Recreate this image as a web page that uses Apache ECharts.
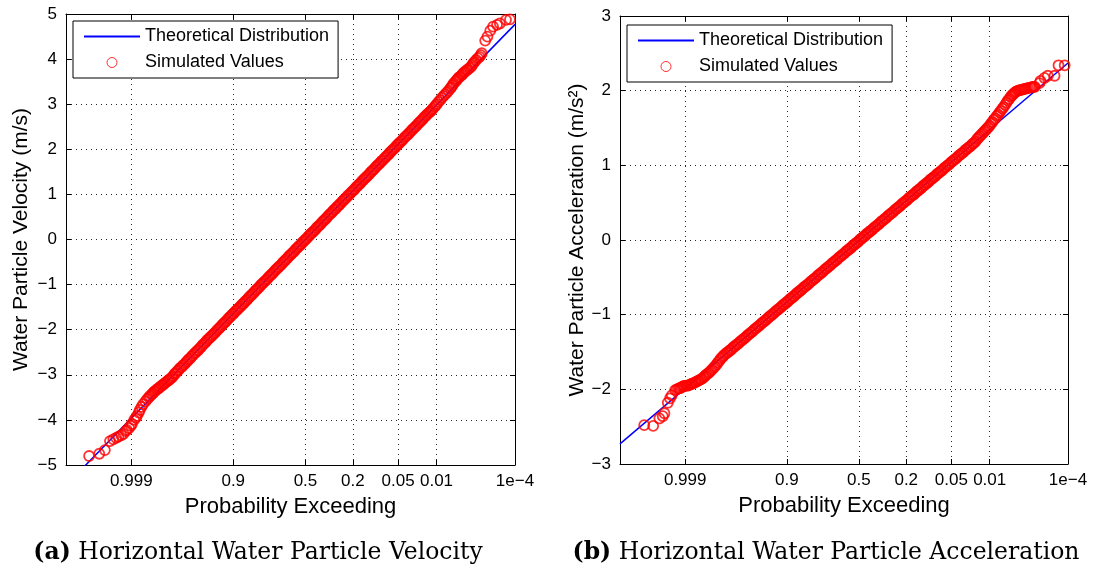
<!DOCTYPE html>
<html><head><meta charset="utf-8">
<script src="https://cdn.jsdelivr.net/npm/echarts@6/dist/echarts.min.js"></script>
<style>html,body{margin:0;padding:0;background:#fff}#c{width:1095px;height:577px}</style>
</head><body><div id="c"></div><script>
// ---- data ----
const probTickLabels = ['0.999', '0.9', '0.5', '0.2', '0.05', '0.01', '1e\u22124'];
const probTickZ = [-3.0902, -1.2816, 0, 0.8416, 1.6449, 2.3263, 3.7190];
const zMin = -4.25, zMax = 3.719;

const velocityTheoretical = [[-4.25, -5.45], [3.719, 4.77]];
const velocitySimulated = [
 [-3.84,-4.80],[-3.66,-4.75],[-3.56,-4.67],[-3.47,-4.47],[-3.41,-4.43],[-3.36,-4.40],[-3.32,-4.37],[-3.27,-4.34],[-3.23,-4.31],[-3.19,-4.25],[-3.17,-4.22],[-3.13,-4.18],[-3.10,-4.13],[-3.08,-4.09],[-3.04,-4.00],[-3.01,-3.95],[-2.99,-3.91],[-2.96,-3.84],[-2.94,-3.78],[-2.91,-3.71],[-2.88,-3.65],[-2.84,-3.59],[-2.81,-3.54],[-2.78,-3.50],[-2.76,-3.47],[-2.73,-3.44],[-2.71,-3.41],[-2.69,-3.38],[-2.67,-3.36],[-2.64,-3.33],[-2.62,-3.31],[-2.60,-3.29],[-2.58,-3.27],[-2.55,-3.24],[-2.53,-3.22],[-2.51,-3.20],[-2.49,-3.18],[-2.46,-3.15],[-2.44,-3.13],[-2.42,-3.11],[-2.40,-3.09],[-2.37,-3.06],
 [-2.35,-3.03],[-2.325,-2.98],[-2.30,-2.96],[-2.275,-2.92],[-2.25,-2.89],[-2.225,-2.85],[-2.20,-2.83],[-2.175,-2.79],[-2.15,-2.77],[-2.125,-2.73],[-2.10,-2.70],[-2.075,-2.66],[-2.05,-2.64],[-2.025,-2.60],[-2.00,-2.57],[-1.975,-2.53],[-1.95,-2.51],[-1.925,-2.47],[-1.90,-2.45],[-1.875,-2.41],[-1.85,-2.38],[-1.825,-2.34],[-1.80,-2.31],[-1.775,-2.28],[-1.75,-2.24],[-1.725,-2.21],[-1.70,-2.18],[-1.675,-2.15],[-1.65,-2.12],[-1.625,-2.09],[-1.60,-2.06],[-1.575,-2.02],[-1.55,-1.99],[-1.525,-1.96],[-1.50,-1.93],[-1.475,-1.89],[-1.45,-1.86],[-1.425,-1.83],[-1.40,-1.80],[-1.375,-1.76],[-1.35,-1.73],[-1.325,-1.70],[-1.30,-1.66],[-1.275,-1.64],[-1.25,-1.60],[-1.225,-1.57],[-1.20,-1.54],[-1.175,-1.51],[-1.15,-1.48],[-1.125,-1.44],[-1.10,-1.42],[-1.075,-1.38],[-1.05,-1.35],[-1.025,-1.32],[-1.00,-1.28],[-0.975,-1.25],[-0.95,-1.22],[-0.925,-1.19],[-0.90,-1.15],[-0.875,-1.12],[-0.85,-1.09],[-0.825,-1.06],[-0.80,-1.02],[-0.775,-0.99],[-0.75,-0.96],[-0.725,-0.93],[-0.70,-0.90],[-0.675,-0.87],[-0.65,-0.83],[-0.625,-0.80],[-0.60,-0.77],[-0.575,-0.74],[-0.55,-0.70],[-0.525,-0.67],[-0.50,-0.64],[-0.475,-0.61],[-0.45,-0.58],[-0.425,-0.55],[-0.40,-0.51],[-0.375,-0.48],[-0.35,-0.45],[-0.325,-0.42],[-0.30,-0.38],[-0.275,-0.35],[-0.25,-0.32],[-0.225,-0.29],[-0.20,-0.26],[-0.175,-0.22],[-0.15,-0.19],[-0.125,-0.16],[-0.10,-0.13],[-0.075,-0.10],[-0.05,-0.06],[-0.025,-0.03],
 [0.00,0.00],[0.025,0.03],[0.05,0.07],[0.075,0.10],[0.10,0.13],[0.125,0.16],[0.15,0.19],[0.175,0.22],[0.20,0.26],[0.225,0.29],[0.25,0.32],[0.275,0.35],[0.30,0.39],[0.325,0.42],[0.35,0.45],[0.375,0.48],[0.40,0.52],[0.425,0.55],[0.45,0.58],[0.475,0.61],[0.50,0.65],[0.525,0.67],[0.55,0.71],[0.575,0.74],[0.60,0.77],[0.625,0.80],[0.65,0.84],[0.675,0.87],[0.70,0.90],[0.725,0.93],[0.75,0.97],[0.775,0.99],[0.80,1.03],[0.825,1.06],[0.85,1.09],[0.875,1.12],[0.90,1.16],[0.925,1.19],[0.95,1.22],[0.975,1.25],[1.00,1.29],[1.025,1.32],[1.05,1.35],[1.075,1.38],[1.10,1.41],[1.125,1.44],[1.15,1.48],[1.175,1.51],[1.20,1.54],[1.225,1.57],[1.25,1.61],[1.275,1.64],[1.30,1.67],[1.325,1.70],[1.35,1.74],[1.375,1.76],[1.40,1.80],[1.425,1.83],[1.45,1.86],[1.475,1.89],[1.50,1.93],[1.525,1.96],[1.55,1.99],[1.575,2.02],[1.60,2.05],[1.625,2.09],[1.65,2.12],[1.675,2.15],[1.70,2.18],[1.725,2.21],[1.75,2.25],[1.775,2.28],[1.80,2.31],[1.825,2.34],[1.85,2.37],[1.875,2.41],[1.90,2.44],[1.925,2.47],[1.95,2.50],[1.975,2.53],[2.00,2.57],[2.025,2.60],[2.05,2.63],[2.075,2.66],[2.10,2.70],[2.125,2.73],[2.15,2.76],[2.175,2.79],[2.20,2.82],
 [2.22,2.84],[2.24,2.87],[2.26,2.90],[2.29,2.94],[2.31,2.97],[2.33,3.00],[2.36,3.05],[2.39,3.09],[2.42,3.14],[2.45,3.18],[2.48,3.22],[2.51,3.26],[2.54,3.30],[2.57,3.35],[2.59,3.38],[2.61,3.42],[2.63,3.46],[2.66,3.50],[2.68,3.53],[2.70,3.56],[2.72,3.59],[2.74,3.61],[2.77,3.64],[2.79,3.67],[2.81,3.70],[2.83,3.72],[2.86,3.75],[2.88,3.77],[2.91,3.80],[2.94,3.83],[2.96,3.87],[2.98,3.91],[3.00,3.94],[3.03,3.98],[3.06,4.02],[3.09,4.05],[3.11,4.09],[3.13,4.13],[3.19,4.41],[3.23,4.50],[3.28,4.63],[3.33,4.72],[3.40,4.76],[3.45,4.79],[3.56,4.87],[3.63,4.88]
];

const accelTheoretical = [[-4.25, -2.73], [3.719, 2.37]];
const accelSimulated = [
 [-3.82,-2.48],[-3.66,-2.49],[-3.55,-2.39],[-3.49,-2.36],[-3.46,-2.32],[-3.40,-2.18],[-3.36,-2.12],[-3.33,-2.08],[-3.27,-2.01],[-3.24,-2.00],[-3.21,-1.99],[-3.19,-1.985],[-3.17,-1.98],[-3.15,-1.97],[-3.13,-1.96],[-3.11,-1.955],[-3.08,-1.95],[-3.06,-1.95],[-3.04,-1.95],[-3.01,-1.94],[-2.99,-1.93],[-2.97,-1.925],[-2.95,-1.92],[-2.92,-1.91],[-2.90,-1.90],[-2.87,-1.89],[-2.85,-1.88],[-2.82,-1.87],[-2.80,-1.86],[-2.77,-1.845],[-2.75,-1.83],[-2.73,-1.815],[-2.71,-1.80],[-2.68,-1.785],[-2.66,-1.77],[-2.63,-1.75],[-2.61,-1.73],[-2.58,-1.71],[-2.56,-1.69],[-2.53,-1.665],[-2.51,-1.64],[-2.48,-1.615],[-2.46,-1.59],[-2.43,-1.57],[-2.41,-1.55],[-2.38,-1.53],
 [-2.35,-1.51],[-2.325,-1.50],[-2.30,-1.48],[-2.275,-1.47],[-2.25,-1.45],[-2.225,-1.43],[-2.20,-1.42],[-2.175,-1.40],[-2.15,-1.39],[-2.125,-1.37],[-2.10,-1.35],[-2.075,-1.34],[-2.05,-1.32],[-2.025,-1.31],[-2.00,-1.29],[-1.975,-1.27],[-1.95,-1.26],[-1.925,-1.24],[-1.90,-1.23],[-1.875,-1.21],[-1.85,-1.19],[-1.825,-1.18],[-1.80,-1.16],[-1.775,-1.15],[-1.75,-1.13],[-1.725,-1.11],[-1.70,-1.10],[-1.675,-1.08],[-1.65,-1.07],[-1.625,-1.05],[-1.60,-1.03],[-1.575,-1.02],[-1.55,-1.00],[-1.525,-0.99],[-1.50,-0.97],[-1.475,-0.95],[-1.45,-0.94],[-1.425,-0.92],[-1.40,-0.91],[-1.375,-0.89],[-1.35,-0.87],[-1.325,-0.86],[-1.30,-0.84],[-1.275,-0.83],[-1.25,-0.81],[-1.225,-0.79],[-1.20,-0.78],[-1.175,-0.76],[-1.15,-0.75],[-1.125,-0.73],[-1.10,-0.71],[-1.075,-0.70],[-1.05,-0.68],[-1.025,-0.67],[-1.00,-0.65],[-0.975,-0.63],[-0.95,-0.62],[-0.925,-0.60],[-0.90,-0.59],[-0.875,-0.57],[-0.85,-0.55],[-0.825,-0.54],[-0.80,-0.52],[-0.775,-0.51],[-0.75,-0.49],[-0.725,-0.47],[-0.70,-0.46],[-0.675,-0.44],[-0.65,-0.43],[-0.625,-0.41],[-0.60,-0.39],[-0.575,-0.38],[-0.55,-0.36],[-0.525,-0.35],[-0.50,-0.33],[-0.475,-0.31],[-0.45,-0.30],[-0.425,-0.28],[-0.40,-0.27],[-0.375,-0.25],[-0.35,-0.23],[-0.325,-0.22],[-0.30,-0.20],[-0.275,-0.19],[-0.25,-0.17],[-0.225,-0.15],[-0.20,-0.14],[-0.175,-0.12],[-0.15,-0.11],[-0.125,-0.09],[-0.10,-0.07],[-0.075,-0.06],[-0.05,-0.04],[-0.025,-0.03],
 [0.00,-0.01],[0.025,0.01],[0.05,0.02],[0.075,0.04],[0.10,0.05],[0.125,0.07],[0.15,0.09],[0.175,0.10],[0.20,0.12],[0.225,0.13],[0.25,0.15],[0.275,0.17],[0.30,0.18],[0.325,0.20],[0.35,0.21],[0.375,0.23],[0.40,0.25],[0.425,0.26],[0.45,0.28],[0.475,0.29],[0.50,0.31],[0.525,0.33],[0.55,0.34],[0.575,0.36],[0.60,0.37],[0.625,0.39],[0.65,0.41],[0.675,0.42],[0.70,0.44],[0.725,0.45],[0.75,0.47],[0.775,0.49],[0.80,0.50],[0.825,0.52],[0.85,0.53],[0.875,0.55],[0.90,0.57],[0.925,0.58],[0.95,0.60],[0.975,0.61],[1.00,0.63],[1.025,0.65],[1.05,0.66],[1.075,0.68],[1.10,0.69],[1.125,0.71],[1.15,0.73],[1.175,0.74],[1.20,0.76],[1.225,0.77],[1.25,0.79],[1.275,0.81],[1.30,0.82],[1.325,0.84],[1.35,0.85],[1.375,0.87],[1.40,0.89],[1.425,0.90],[1.45,0.92],[1.475,0.93],[1.50,0.95],[1.525,0.97],[1.55,0.98],[1.575,1.00],[1.60,1.01],[1.625,1.03],[1.65,1.05],[1.675,1.06],[1.70,1.08],[1.725,1.09],[1.75,1.11],[1.775,1.13],[1.80,1.14],[1.825,1.16],[1.85,1.17],[1.875,1.19],[1.90,1.21],[1.925,1.22],[1.95,1.24],[1.975,1.25],[2.00,1.27],[2.025,1.29],[2.05,1.30],[2.075,1.32],
 [2.10,1.35],[2.125,1.37],[2.15,1.39],[2.175,1.41],[2.20,1.43],[2.225,1.45],[2.25,1.47],[2.275,1.49],[2.30,1.51],[2.325,1.53],[2.35,1.56],[2.375,1.58],[2.40,1.61],[2.425,1.63],[2.45,1.66],[2.475,1.68],[2.50,1.71],[2.525,1.73],[2.55,1.76],[2.575,1.78],[2.60,1.81],[2.625,1.84],[2.65,1.87],[2.675,1.89],[2.70,1.92],[2.72,1.935],[2.74,1.95],[2.76,1.965],[2.78,1.98],[2.80,1.99],[2.83,2.00],[2.855,2.005],[2.88,2.01],[2.905,2.015],[2.93,2.02],[2.955,2.025],[2.98,2.03],[3.01,2.035],[3.04,2.04],[3.065,2.045],[3.09,2.05],[3.11,2.05],[3.13,2.05],[3.21,2.10],[3.23,2.13],[3.30,2.17],[3.36,2.20],[3.48,2.20],[3.55,2.34],[3.66,2.34]
];

const panelNames = {
  yTitles: ['Water Particle Velocity (m/s)', 'Water Particle Acceleration (m/s\u00B2)'],
  xTitle: 'Probability Exceeding',
  captions: ['(a)', '(b)'],
  captionTexts: ['Horizontal Water Particle Velocity', 'Horizontal Water Particle Acceleration']
};

// ---- chart ----
const FONT = '"Liberation Sans", Arial, Helvetica, sans-serif';
const SERIF = '"DejaVu Serif", "Liberation Serif", serif';
const dotted = { type: [1, 4], color: '#000', width: 1, opacity: 0.85 };
const probFmt = v => {
  for (let k = 0; k < probTickZ.length; k++) if (Math.abs(probTickZ[k] - v) < 1e-6) return probTickLabels[k];
  return '';
};
const minusFmt = v => String(v).replace('-', '\u2212');

const grids = [
  { left: 66, top: 14, width: 449, height: 451 },
  { left: 620, top: 16, width: 448, height: 448 }
];
const yRanges = [[-5, 5], [-3, 3]];
const yGaps = [34, 32];

const xAxes = [], yAxes = [];
grids.forEach((g, i) => {
  xAxes.push({
    gridIndex: i, type: 'value', position: 'bottom', min: zMin, max: zMax,
    axisLine: { show: true, onZero: false, lineStyle: { color: '#000', width: 1 } },
    axisTick: { show: true, inside: true, length: 5, customValues: probTickZ, lineStyle: { color: '#000' } },
    axisLabel: { show: true, customValues: probTickZ, formatter: probFmt, color: '#000', fontSize: 17, fontFamily: FONT, margin: 8, showMinLabel: true, showMaxLabel: true, hideOverlap: false },
    splitLine: { show: true, lineStyle: dotted },
    name: panelNames.xTitle, nameLocation: 'middle', nameGap: 31,
    nameTextStyle: { color: '#000', fontSize: 22, fontFamily: FONT }
  });
  xAxes.push({
    gridIndex: i, type: 'value', position: 'top', min: zMin, max: zMax,
    axisLine: { show: true, onZero: false, lineStyle: { color: '#000', width: 1 } },
    axisTick: { show: true, inside: true, length: 5, customValues: probTickZ, lineStyle: { color: '#000' } },
    axisLabel: { show: false }, splitLine: { show: false }
  });
  yAxes.push({
    gridIndex: i, type: 'value', position: 'left', min: yRanges[i][0], max: yRanges[i][1], interval: 1,
    axisLine: { show: true, onZero: false, lineStyle: { color: '#000', width: 1 } },
    axisTick: { show: true, inside: true, length: 5, lineStyle: { color: '#000' } },
    axisLabel: { formatter: minusFmt, color: '#000', fontSize: 17, fontFamily: FONT, margin: 9 },
    splitLine: { show: true, lineStyle: dotted },
    name: panelNames.yTitles[i], nameLocation: 'middle', nameGap: yGaps[i],
    nameTextStyle: { color: '#000', fontSize: 21, fontFamily: FONT }
  });
  yAxes.push({
    gridIndex: i, type: 'value', position: 'right', min: yRanges[i][0], max: yRanges[i][1], interval: 1,
    axisLine: { show: true, onZero: false, lineStyle: { color: '#000', width: 1 } },
    axisTick: { show: true, inside: true, length: 5, lineStyle: { color: '#000' } },
    axisLabel: { show: false }, splitLine: { show: false }
  });
});

const theo = [velocityTheoretical, accelTheoretical];
const sim = [velocitySimulated, accelSimulated];
const series = [];
[0, 1].forEach(i => {
  series.push({
    type: 'line', name: 'Theoretical Distribution', xAxisIndex: 2 * i, yAxisIndex: 2 * i,
    data: theo[i], symbol: 'none', clip: true, z: 2,
    lineStyle: { color: '#0000ff', width: 1.5 }, itemStyle: { color: '#0000ff' }
  });
  series.push({
    type: 'scatter', name: 'Simulated Values', xAxisIndex: 2 * i, yAxisIndex: 2 * i,
    data: sim[i], symbol: 'circle', symbolSize: 10, clip: true, z: 3,
    itemStyle: { color: 'rgba(255,0,0,0)', borderColor: '#ff0000', borderWidth: 1.8 }
  });
});

const legendBase = {
  orient: 'vertical', backgroundColor: '#fff', borderColor: '#000', borderWidth: 1,
  padding: [5, 9, 5, 10], itemGap: 5, itemWidth: 56, itemHeight: 10,
  textStyle: { color: '#000', fontSize: 18, fontFamily: FONT, lineHeight: 21 },
  data: [
    { name: 'Theoretical Distribution', itemStyle: { opacity: 0 }, lineStyle: { color: '#0000ff', width: 2 } },
    { name: 'Simulated Values', icon: 'circle', itemStyle: { color: 'rgba(255,0,0,0)', borderColor: '#ff0000', borderWidth: 1 } }
  ]
};
const legends = [
  Object.assign({}, legendBase, { left: 73, top: 21 }),
  Object.assign({}, legendBase, { left: 627, top: 25 })
];

const captionX = [258, 826];
const graphic = [0, 1].map(i => ({
  type: 'text', x: captionX[i], y: 553,
  style: {
    text: '{b|' + panelNames.captions[i] + '} ' + panelNames.captionTexts[i],
    rich: { b: { fontWeight: 'bold', fontFamily: SERIF, fontSize: 23.5, fill: '#000' } },
    fontFamily: SERIF, fontSize: 23.5, fill: '#000', align: 'center', verticalAlign: 'middle'
  }
}));

const chart = echarts.init(document.getElementById('c'), null, { renderer: 'canvas' });
chart.setOption({
  animation: false,
  backgroundColor: '#fff',
  grid: grids,
  xAxis: xAxes,
  yAxis: yAxes,
  legend: legends,
  series: series,
  graphic: graphic
});
</script></body></html>
